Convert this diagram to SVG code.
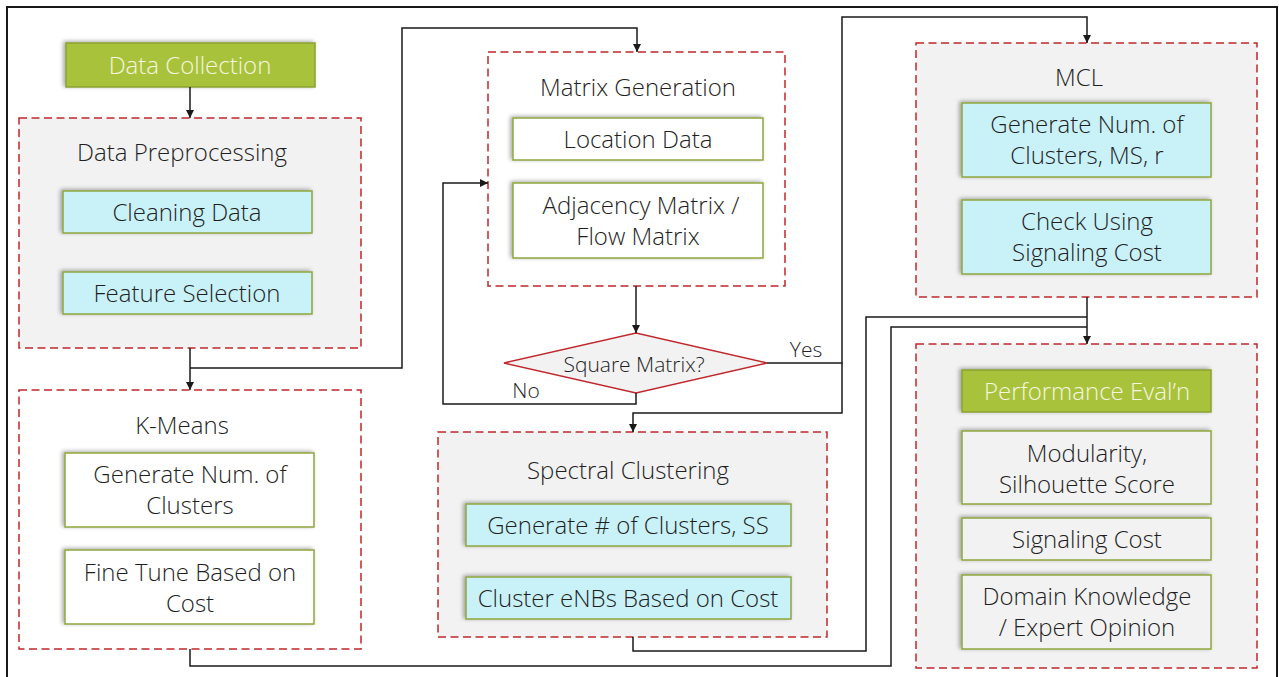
<svg xmlns="http://www.w3.org/2000/svg" width="1279" height="677" viewBox="0 0 1279 677">
<defs>
<style>
.frame{fill:none;stroke:#1a1a1a;stroke-width:2}
.grp{fill:#f2f2f2;stroke:#c0282d;stroke-width:1.5;stroke-dasharray:8 4.5}
.grpw{fill:#ffffff;stroke:#c0282d;stroke-width:1.5;stroke-dasharray:8 4.5}
.green{fill:#a9c23a;stroke:#8aa332;stroke-width:1.5;filter:url(#sh)}
.cyan{fill:#c9f2f8;stroke:#8ea63e;stroke-width:1.5;filter:url(#sh)}
.white{fill:#ffffff;stroke:#8ea63e;stroke-width:1.5;filter:url(#sh)}
.gray{fill:#f2f2f2;stroke:#8ea63e;stroke-width:1.5;filter:url(#sh)}
.dia{fill:#f2f2f2;stroke:#c0282d;stroke-width:1.5}
text{font-family:"Open Sans","Noto Sans","Liberation Sans",sans-serif;font-weight:350;font-size:24px;fill:#1f1f1f;text-anchor:middle}
.lt{fill:#f4f6e0}
.sm{font-size:21px}
.conn path{fill:none;stroke:#1a1a1a;stroke-width:1.5}
</style>
<filter id="sh" x="-10%" y="-30%" width="120%" height="160%">
<feDropShadow dx="-2" dy="-1" stdDeviation="2" flood-color="#000" flood-opacity="0.35"/>
</filter>
<marker id="ar" markerWidth="10" markerHeight="10" refX="9" refY="5" orient="auto" markerUnits="userSpaceOnUse">
<path d="M1,1 L9,5 L1,9 Z" fill="#1a1a1a"/>
</marker>
</defs>
<rect width="1279" height="677" fill="#ffffff"/>
<rect class="frame" x="7" y="7" width="1270" height="690"/>

<g id="data-collection">
<rect class="green" x="66" y="43" width="249" height="44"/>
<text class="lt" x="190" y="74">Data Collection</text>
</g>

<g id="data-preprocessing">
<rect class="grp" x="19" y="118" width="342" height="230"/>
<text x="182" y="161">Data Preprocessing</text>
<rect class="cyan" x="63" y="191" width="249" height="42"/>
<text x="187" y="221">Cleaning Data</text>
<rect class="cyan" x="63" y="272" width="249" height="42"/>
<text x="187" y="302">Feature Selection</text>
</g>

<g id="k-means">
<rect class="grpw" x="19" y="390" width="342" height="259"/>
<text x="182" y="434">K-Means</text>
<rect class="white" x="65" y="453" width="249" height="74"/>
<text x="190" y="483">Generate Num. of</text>
<text x="190" y="514">Clusters</text>
<rect class="white" x="65" y="550" width="249" height="74"/>
<text x="190" y="581">Fine Tune Based on</text>
<text x="190" y="612">Cost</text>
</g>

<g id="matrix-generation">
<rect class="grpw" x="488" y="52" width="297" height="234"/>
<text x="638" y="96">Matrix Generation</text>
<rect class="white" x="513" y="118" width="250" height="42"/>
<text x="638" y="148">Location Data</text>
<rect class="white" x="513" y="183" width="250" height="75"/>
<text x="641" y="214">Adjacency Matrix /</text>
<text x="638" y="245">Flow Matrix</text>
</g>

<g id="square-matrix">
<polygon class="dia" points="504,363 636,333 767,363 636,393"/>
<text class="sm" x="634" y="372">Square Matrix?</text>
</g>

<g id="spectral-clustering">
<rect class="grp" x="438" y="432" width="389" height="205"/>
<text x="628" y="479">Spectral Clustering</text>
<rect class="cyan" x="466" y="504" width="325" height="42"/>
<text x="628" y="534">Generate # of Clusters, SS</text>
<rect class="cyan" x="466" y="577" width="325" height="42"/>
<text x="628" y="607">Cluster eNBs Based on Cost</text>
</g>

<g id="mcl">
<rect class="grp" x="916" y="43" width="341" height="254"/>
<text x="1079" y="86">MCL</text>
<rect class="cyan" x="962" y="103" width="249" height="74"/>
<text x="1087" y="133">Generate Num. of</text>
<text x="1087" y="164">Clusters, MS, r</text>
<rect class="cyan" x="962" y="200" width="249" height="74"/>
<text x="1087" y="230">Check Using</text>
<text x="1087" y="261">Signaling Cost</text>
</g>

<g id="performance-evaluation">
<rect class="grp" x="916" y="344" width="341" height="324"/>
<rect class="green" x="962" y="370" width="249" height="42"/>
<text class="lt" x="1087" y="400">Performance Eval’n</text>
<rect class="gray" x="962" y="431" width="249" height="73"/>
<text x="1087" y="462">Modularity,</text>
<text x="1087" y="493">Silhouette Score</text>
<rect class="gray" x="962" y="518" width="249" height="42"/>
<text x="1087" y="548">Signaling Cost</text>
<rect class="gray" x="962" y="575" width="249" height="74"/>
<text x="1087" y="605">Domain Knowledge</text>
<text x="1087" y="636">/ Expert Opinion</text>
</g>

<g id="connectors" class="conn">
<path d="M190,87 V118" marker-end="url(#ar)"/>
<path d="M190,348 V390" marker-end="url(#ar)"/>
<path d="M190,368 H402 V28 H637 V52" marker-end="url(#ar)"/>
<path d="M636,286 V333" marker-end="url(#ar)"/>
<path d="M636,393 V404 H443 V183 H488" marker-end="url(#ar)"/>
<path d="M767,363 H842 V17 H1087 V43" marker-end="url(#ar)"/>
<path d="M842,363 V413 H633 V432" marker-end="url(#ar)"/>
<path d="M1087,297 V344" marker-end="url(#ar)"/>
<path d="M633,637 V651 H866 V317 H1087"/>
<path d="M190,649 V666 H891 V327 H1087"/>
<text class="sm" x="806" y="357">Yes</text>
<text class="sm" x="526" y="398">No</text>
</g>
</svg>
